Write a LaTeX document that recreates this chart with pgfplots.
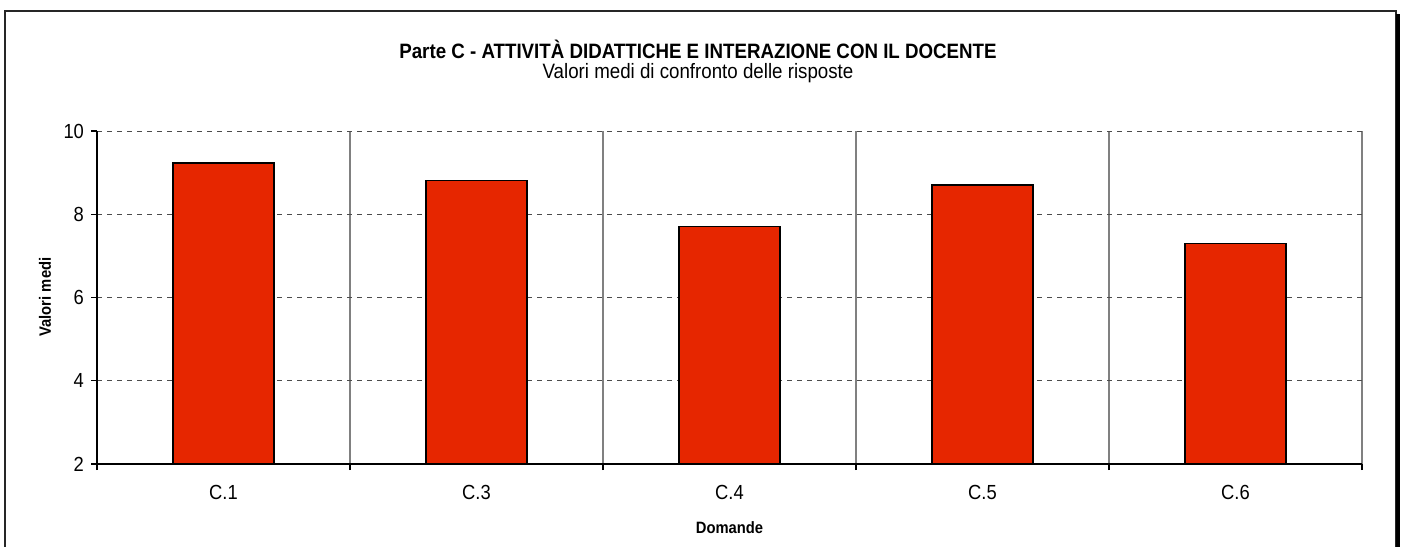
\documentclass[border=0pt]{standalone}
\usepackage{pgfplots}
\pgfplotsset{compat=1.18}
\usepackage{fontspec}
\setmainfont{Liberation Sans}[FakeStretch=0.9]
\definecolor{barred}{RGB}{230,38,0}
\begin{document}
\begin{tikzpicture}[x=1pt,y=1pt]
\useasboundingbox (0,0) rectangle (701,273);
% frame
\draw[line width=0.9pt,black!85] (2.5,-2) -- (2.5,267.5) -- (698,267.5) -- (698,-2);
\fill[black] (697.8,-2) rectangle (700.2,266);
\node[font=\bfseries\fontsize{10.4}{12}\selectfont] at (349,248.5) {Parte C - ATTIVITÀ DIDATTICHE E INTERAZIONE CON IL DOCENTE};
\node[font=\fontsize{10.4}{12}\selectfont] at (349,236.5) {Valori medi di confronto delle risposte};
\node[font=\bfseries\fontsize{8.2}{10}\selectfont,rotate=90] at (22.5,124.5) {Valori medi};
\node[font=\bfseries\fontsize{8.2}{10}\selectfont] at (364.75,9) {Domande};
\begin{axis}[
  at={(48.5pt,41pt)}, anchor=south west,
  scale only axis, width=632.5pt, height=166.5pt,
  xmin=0.5, xmax=5.5, ymin=2, ymax=10,
  axis x line=bottom, axis y line=left,
  axis line style={-, line width=1pt, black},
  xtick={1,2,3,4,5},
  xticklabels={C.1,C.3,C.4,C.5,C.6},
  major x tick style={draw=none},
  minor xtick={0.5,1.5,2.5,3.5,4.5,5.5},
  xminorgrids, minor x grid style={gray, line width=0.6pt},
  minor tick length=3pt,
  minor x tick style={black, line width=0.6pt},
  ytick={2,4,6,8,10},
  ymajorgrids, major y grid style={black!70, dash pattern=on 2.5pt off 2.5pt, line width=0.5pt},
  major tick length=3pt,
  y tick style={black, line width=0.6pt},
  tick align=outside,
  ticklabel style={font=\fontsize{10.2}{12}\selectfont},
  /pgf/number format/assume math mode=true,
  xticklabel style={yshift=-4pt},
  clip=false,
]
\addplot[ybar, bar width=0.4, fill=barred, draw=black, line width=0.7pt] coordinates {
  (1,9.23) (2,8.81) (3,7.70) (4,8.70) (5,7.30)
};
\end{axis}
\end{tikzpicture}
\end{document}
